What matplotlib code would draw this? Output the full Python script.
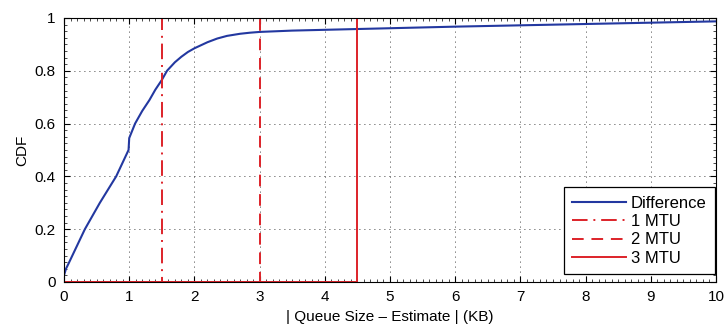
import numpy as np
import matplotlib.pyplot as plt
from matplotlib.ticker import MultipleLocator

plt.rcParams['font.family'] = ['Liberation Sans', 'DejaVu Sans']

# CDF of |queue size - estimate| (KB, fraction)
diff_x = [0, 0.03, 0.07, 0.32, 0.55, 0.8, 0.99, 1.0, 1.09, 1.2, 1.31, 1.4,
          1.5, 1.58, 1.7, 1.8, 1.9, 2.0, 2.2, 2.35, 2.5, 2.7, 2.85,
          3.0, 3.5, 4.0, 4.5, 5.0, 6.0, 7.0, 8.0, 9.0, 10.0]
diff_y = [0.025, 0.05, 0.07, 0.2, 0.3, 0.4, 0.5, 0.545, 0.6, 0.648, 0.689,
          0.728, 0.765, 0.8, 0.832, 0.853, 0.871, 0.885, 0.908, 0.922, 0.932,
          0.94, 0.944, 0.947, 0.952, 0.955, 0.958, 0.961, 0.967,
          0.972, 0.977, 0.982, 0.987]

mtu_kb = [1.5, 3.0, 4.5]
mtu_labels = ['1 MTU', '2 MTU', '3 MTU']
mtu_styles = [(0, (8, 3, 1, 3)), (0, (6, 4)), '-']

blue = '#2338a0'
red = '#dd2229'

fig = plt.figure(figsize=(7.25, 3.26), dpi=100)
ax = fig.add_axes([0.0883, 0.135, 0.8993, 0.81])

ax.plot(diff_x, diff_y, color=blue, lw=1.5, label='Difference')
for m, lab, ls in zip(mtu_kb, mtu_labels, mtu_styles):
    # step CDF of a constant value
    ax.plot([0, m, m, 10], [0, 0, 1, 1], color=red, lw=1.4, ls=ls, label=lab)

ax.set_xlim(0, 10)
ax.set_ylim(0, 1)
ax.set_xticks(range(0, 11))
ax.set_yticks([0, 0.2, 0.4, 0.6, 0.8, 1])
ax.set_yticklabels(['0', '0.2', '0.4', '0.6', '0.8', '1'])
ax.xaxis.set_minor_locator(MultipleLocator(0.1))
ax.yaxis.set_minor_locator(MultipleLocator(0.025))
ax.grid(True, which='major', color='black', ls=(0, (1, 5)), lw=0.6)
ax.tick_params(which='both', direction='in', top=True, right=True)
ax.tick_params(which='major', labelsize=11, length=4, pad=6)
ax.tick_params(which='minor', length=2, width=0.5)
for s in ax.spines.values():
    s.set_linewidth(0.8)

ax.set_xlabel('| Queue Size – Estimate | (KB)', fontsize=11, labelpad=4)
ax.set_ylabel('CDF', fontsize=11, labelpad=4)

leg = ax.legend(loc='lower right', bbox_to_anchor=(0.998, 0.03), fontsize=12,
                fancybox=False, framealpha=1, edgecolor='black',
                borderaxespad=0, handlelength=3.2, handletextpad=0.3,
                labelspacing=0.2, borderpad=0.5)
leg.get_frame().set_linewidth(0.9)

fig.savefig('out.png', dpi=100)
